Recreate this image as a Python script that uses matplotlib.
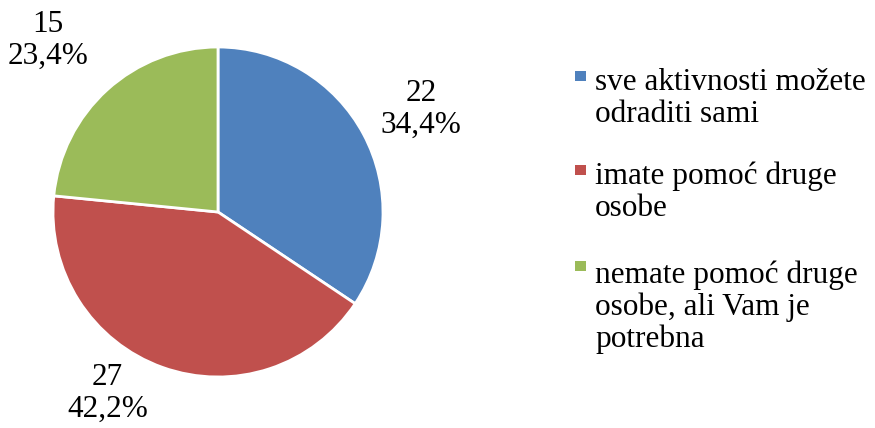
import matplotlib
matplotlib.use("Agg")
import matplotlib.pyplot as plt
from matplotlib.patches import Rectangle

categories = ["sve aktivnosti možete\nodraditi sami",
              "imate pomoć druge\nosobe",
              "nemate pomoć druge\nosobe, ali Vam je\npotrebna"]
values = [22, 27, 15]
percents = ["34,4%", "42,2%", "23,4%"]
colors = ["#4F81BD", "#C0504D", "#9BBB59"]

plt.rcParams['font.family'] = ['Liberation Serif', 'DejaVu Serif']
FS = 22.5
LS = 1.12

W, H = 875, 428
fig = plt.figure(figsize=(W / 100, H / 100), dpi=100)
cx, cy, r = 218, 428 - 212, 165
ax = fig.add_axes([(cx - r) / W, (cy - r) / H, 2 * r / W, 2 * r / H])
wedges, _ = ax.pie(values, colors=colors, startangle=90, counterclock=False,
                   radius=1.0, wedgeprops=dict(edgecolor="white", linewidth=2))
ax.set_xlim(-1, 1)
ax.set_ylim(-1, 1)
ax.set_aspect("equal")
ax.axis("off")

label_pos = [(1.23, 0.62), (-0.67, -1.10), (-1.03, 1.04)]
for (x, y), v, p in zip(label_pos, values, percents):
    ax.text(x, y, f"{v}\n{p}", ha="center", va="center", fontsize=FS,
            linespacing=LS, clip_on=False)

# legend: square handle aligned with the first line of each entry
first_baselines = [87, 181, 277]
step = 35
for w, lab, b in zip(wedges, categories, first_baselines):
    nlines = lab.count("\n")
    fig.text(595 / W, 1 - (b + nlines * step) / H, lab, ha="left",
             va="baseline", fontsize=FS, linespacing=LS,
             multialignment="left")
    fig.patches.append(Rectangle((575 / W, 1 - (b - 6) / H), 10.5 / W,
                                 10.5 / H, transform=fig.transFigure,
                                 facecolor=w.get_facecolor(), edgecolor="none",
                                 figure=fig))

fig.savefig("out.png", dpi=100)
